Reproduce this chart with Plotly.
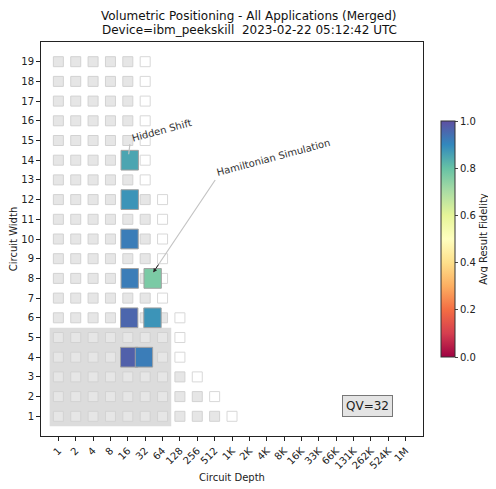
import plotly.graph_objects as go
from plotly.colors import sample_colorscale, diverging

# background grid: for each circuit width, number of filled (grey) depth cells;
# the next cell after those is drawn as an empty (white) box
widths = list(range(1, 20))
grey_counts = [10, 9, 8, 7, 7, 7, 6, 6, 6, 6, 6, 6, 5, 5, 5, 5, 5, 5, 5]

# application results (depth in log2 units)
app_widths = [14, 12, 10, 8, 8, 6, 6, 4, 4]
app_depths = [4.11, 4.11, 4.10, 4.11, 5.43, 4.08, 5.42, 4.08, 4.93]
app_fidelity = [0.85, 0.88, 0.92, 0.92, 0.77, 0.96, 0.88, 0.97, 0.92]

depth_labels = ['1', '2', '4', '8', '16', '32', '64', '128', '256', '512', '1K', '2K', '4K',
                '8K', '16K', '33K', '66K', '131K', '262K', '524K', '1M']

qv = 32
qv_width = 5
qv_depth = 6

title_lines = ['Volumetric Positioning - All Applications (Merged)',
               'Device=ibm_peekskill  2023-02-22 05:12:42 UTC']

cscale = diverging.Spectral
FONT = "DejaVu Sans"

# grey / white cells
gx, gy, wx, wy = [], [], [], []
for w, n in zip(widths, grey_counts):
    for d in range(n):
        gx.append(d)
        gy.append(w)
    wx.append(n)
    wy.append(w)

fig = go.Figure()

# QV region
fig.add_shape(type="rect", x0=-0.5, x1=qv_depth + 0.5, y0=0.5, y1=qv_width + 0.5,
              fillcolor="#dcdcdc", line=dict(width=0), layer="below")

fig.add_trace(go.Scatter(x=gx, y=gy, mode='markers', hoverinfo='skip', showlegend=False,
                         marker=dict(symbol='square', size=10, color='#e6e6e6',
                                     line=dict(color='#d2d2d2', width=1))))
fig.add_trace(go.Scatter(x=wx, y=wy, mode='markers', hoverinfo='skip', showlegend=False,
                         marker=dict(symbol='square', size=10, color='white',
                                     line=dict(color='#d8d8d8', width=1))))

# app result boxes
fills = sample_colorscale(cscale, app_fidelity)
for d, w, c in zip(app_depths, app_widths, fills):
    fig.add_shape(type="rect", x0=d - 0.5, x1=d + 0.5, y0=w - 0.5, y1=w + 0.5,
                  fillcolor=c, line=dict(color='#a0a0a0', width=1), layer="above")

# colorbar carrier
fig.add_trace(go.Scatter(x=[None], y=[None], mode='markers', showlegend=False,
                         marker=dict(color=[0, 1], cmin=0, cmax=1, colorscale=cscale,
                                     showscale=True,
                                     colorbar=dict(x=1.048, xanchor='left', y=0.5, yanchor='middle',
                                                   len=0.6, lenmode='fraction', thickness=14,
                                                   xpad=0, ypad=0,
                                                   outlinewidth=1, outlinecolor='#333',
                                                   tickvals=[0, 0.2, 0.4, 0.6, 0.8, 1.0],
                                                   tickformat='.1f', ticks='outside', ticklen=3,
                                                   tickfont=dict(size=10, family=FONT, color='#222'),
                                                   title=dict(text='Avg Result Fidelity', side='right',
                                                              font=dict(size=10, family=FONT, color='#222'))))))

# annotations: grey line + black arrow head
def label_arrow(tail, head, text, text_pos):
    fig.add_annotation(x=head[0], y=head[1], ax=tail[0], ay=tail[1], axref='x', ayref='y',
                       xref='x', yref='y', text='', showarrow=True, arrowhead=0,
                       arrowwidth=1.2, arrowcolor='#c4c4c4')
    fig.add_annotation(x=head[0], y=head[1], ax=tail[0] + (head[0] - tail[0]) * 0.9,
                       ay=tail[1] + (head[1] - tail[1]) * 0.9, axref='x', ayref='y',
                       xref='x', yref='y', text='', showarrow=True, arrowhead=2,
                       arrowsize=0.8, arrowwidth=1, arrowcolor='#222')
    fig.add_annotation(x=text_pos[0], y=text_pos[1], xref='x', yref='y', text=text,
                       showarrow=False, textangle=-15,
                       font=dict(size=10, family=FONT, color='#333'))

label_arrow((4.13, 14.89), (4.05, 14.3), 'Hidden Shift', (5.92, 15.5))
label_arrow((9.09, 13.07), (5.46, 8.3), 'Hamiltonian Simulation', (12.37, 14.13))

fig.add_annotation(x=17.8, y=1.5, xref='x', yref='y', text=f'QV={qv}', showarrow=False,
                   bgcolor='#e4e4e4', bordercolor='#777', borderwidth=1, borderpad=3,
                   font=dict(size=12, family=FONT, color='#222'))

# two-line title, centred on the figure rather than the axes
for line, ty in zip(title_lines, [1.066, 1.031]):
    fig.add_annotation(x=0.545, y=ty, xref='paper', yref='paper', text=line, showarrow=False,
                       xanchor='center', yanchor='middle',
                       font=dict(size=12, family=FONT, color='#111'))

# the page body adds an 8px offset, so margins are shifted up/left by 8px
fig.update_layout(
    width=496, height=489,
    margin=dict(l=33, r=81, t=34, b=61, autoexpand=False),
    paper_bgcolor='white', plot_bgcolor='white',
    font=dict(family=FONT, size=10, color='#222'),
)
fig.update_xaxes(range=[-1, 21], tickvals=list(range(len(depth_labels))), ticktext=depth_labels,
                 tickangle=-45, showgrid=False, zeroline=False, showline=True, linecolor='#222',
                 linewidth=1, mirror=True, ticks='outside', ticklen=4, tickcolor='#222',
                 automargin=False,
                 title=dict(text='Circuit Depth', font=dict(size=10, family=FONT), standoff=3))
fig.update_yaxes(range=[0, 20], tickvals=widths, showgrid=False, zeroline=False, showline=True,
                 linecolor='#222', linewidth=1, mirror=True, ticks='outside', ticklen=4,
                 tickcolor='#222', automargin=False,
                 title=dict(text='Circuit Width', font=dict(size=10, family=FONT), standoff=3))

fig.write_html("out.html")
